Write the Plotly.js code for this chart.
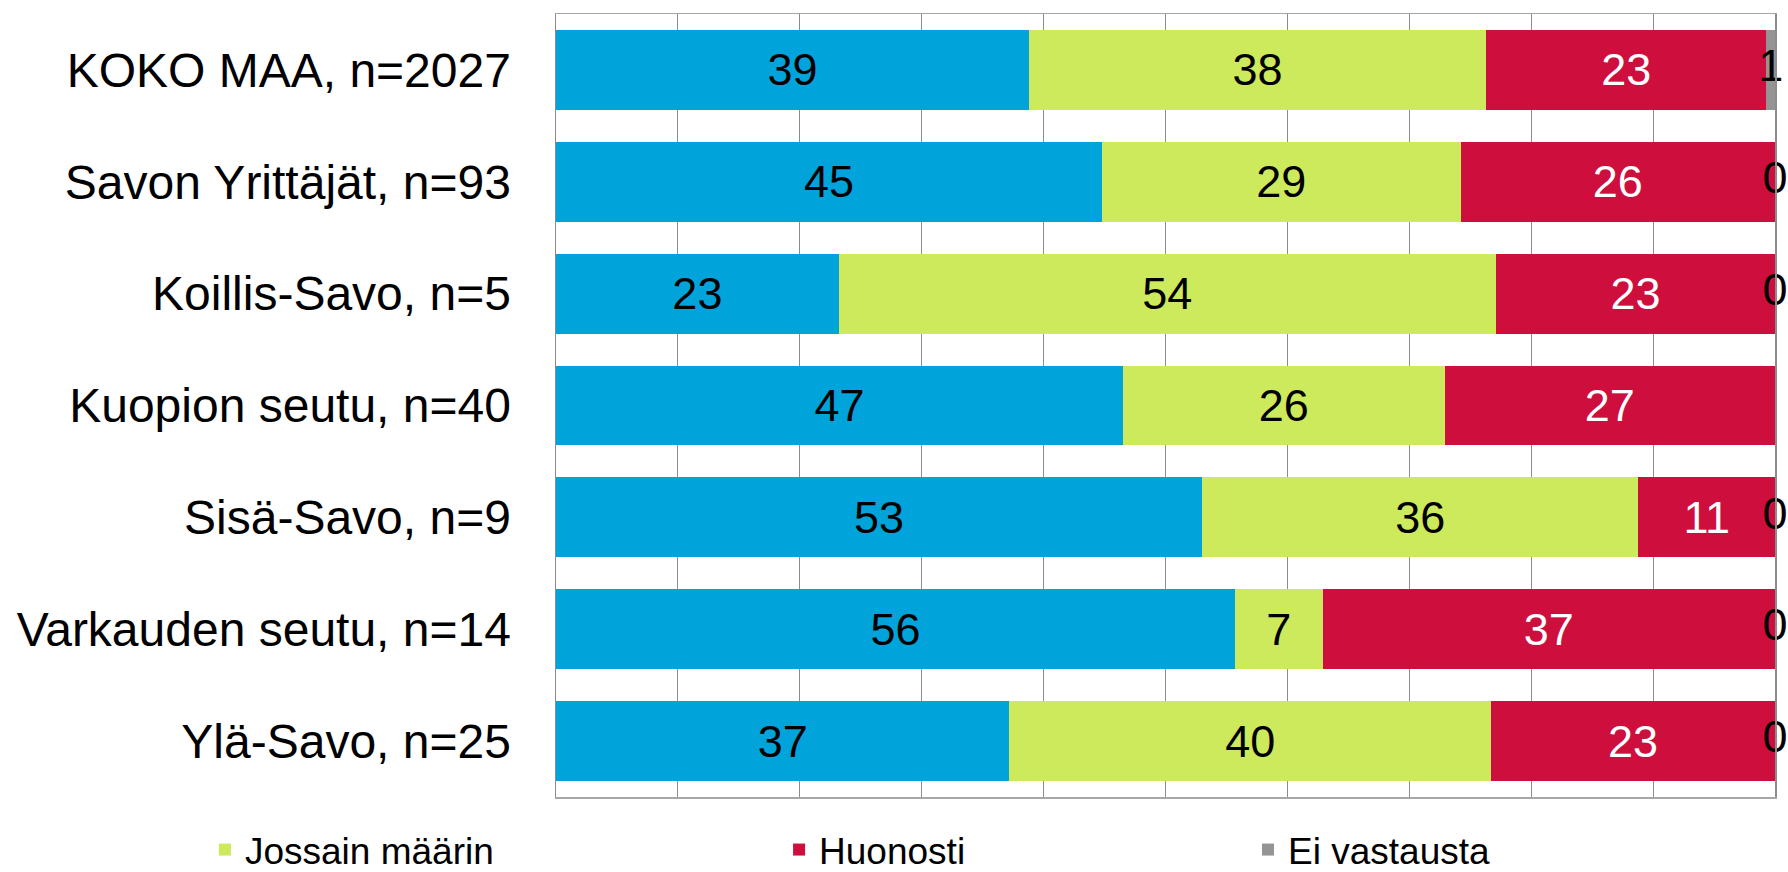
<!DOCTYPE html>
<html>
<head>
<meta charset="utf-8">
<script src="https://cdn.plot.ly/plotly-3.0.1.min.js"></script>
<style>
  html, body { margin: 0; padding: 0; background: #ffffff; }
  #chart { width: 1788px; height: 872px; }
</style>
</head>
<body>
<div id="chart"></div>
<script>
// Categories (top to bottom)
const categories = [
  'KOKO MAA, n=2027',
  'Savon Yrittäjät, n=93',
  'Koillis-Savo, n=5',
  'Kuopion seutu, n=40',
  'Sisä-Savo, n=9',
  'Varkauden seutu, n=14',
  'Ylä-Savo, n=25'
];

const seriesNames = ['Hyvin', 'Jossain määrin', 'Huonosti', 'Ei vastausta'];

// Series values (percent)
const hyvin     = [38.8, 44.8, 23.2, 46.5, 53.0, 55.7, 37.2];
const jossain   = [37.5, 29.4, 53.9, 26.4, 35.8, 7.2, 39.5];
const huonosti  = [23.0, 25.8, 22.9, 27.1, 11.2, 37.1, 23.3];
const eiVast    = [0.7, 0, 0, 0, 0, 0, 0];

// Data labels as printed on the chart
const hyvinLabels    = ['39', '45', '23', '47', '53', '56', '37'];
const jossainLabels  = ['38', '29', '54', '26', '36', '7', '40'];
const huonostiLabels = ['23', '26', '23', '27', '11', '37', '23'];
const eiVastLabels   = ['1', '0', '0', '', '0', '0', '0'];

const colors = ['#00a3da', '#cde95c', '#ce0e3d', '#949494'];
const FONT = 'Liberation Sans, Arial, sans-serif';
const labelSize = 45;

function barTrace(name, x, labels, color, textColor, showleg, legendId) {
  return {
    type: 'bar',
    orientation: 'h',
    name: name,
    y: categories,
    x: x,
    text: labels,
    textposition: 'inside',
    insidetextanchor: 'middle',
    constraintext: 'none',
    textangle: 0,
    textfont: { family: FONT, size: labelSize, color: textColor },
    marker: { color: color, line: { width: 0 } },
    showlegend: showleg,
    legend: legendId,
    hoverinfo: 'skip'
  };
}

const traces = [
  barTrace(seriesNames[0], hyvin, hyvinLabels, colors[0], '#000000', false, 'legend'),
  barTrace(seriesNames[1], jossain, jossainLabels, colors[1], '#000000', true, 'legend'),
  barTrace(seriesNames[2], huonosti, huonostiLabels, colors[2], '#ffffff', true, 'legend2'),
  barTrace(seriesNames[3], eiVast, eiVastLabels.map(() => ''), colors[3], '#000000', true, 'legend3')
];

// Labels of the "Ei vastausta" segments, placed at the centre of each segment
const eiVastCenters = categories.map((c, i) => hyvin[i] + jossain[i] + huonosti[i] + eiVast[i] / 2);
traces.push({
  type: 'scatter',
  mode: 'text',
  y: categories,
  x: eiVastCenters,
  text: eiVastLabels,
  textposition: 'middle center',
  textfont: { family: FONT, size: labelSize, color: '#000000' },
  cliponaxis: false,
  showlegend: false,
  hoverinfo: 'skip'
});

const legendCommon = {
  orientation: 'h',
  xanchor: 'left',
  yanchor: 'middle',
  y: -0.0677,
  font: { family: FONT, size: 37, color: '#000000' },
  bgcolor: 'rgba(0,0,0,0)',
  borderwidth: 0,
  traceorder: 'normal'
};

const layout = {
  width: 1788,
  height: 872,
  margin: { l: 556, r: 13, t: 14, b: 75, pad: 0, autoexpand: false },
  paper_bgcolor: '#ffffff',
  plot_bgcolor: '#ffffff',
  barmode: 'stack',
  bargap: 0.285,
  font: { family: FONT, color: '#000000' },
  xaxis: {
    range: [0, 100],
    dtick: 10,
    tick0: 0,
    showticklabels: false,
    ticks: '',
    showgrid: true,
    gridcolor: '#8c8c8c',
    gridwidth: 1,
    zeroline: false,
    showline: true,
    linecolor: '#a6a6a6',
    linewidth: 1.5,
    mirror: true,
    fixedrange: true
  },
  yaxis: {
    type: 'category',
    autorange: 'reversed',
    ticks: '',
    showgrid: false,
    zeroline: false,
    showline: true,
    linecolor: '#8c8c8c',
    linewidth: 1.5,
    mirror: true,
    ticklabelstandoff: 34,
    tickfont: { family: FONT, size: 48, color: '#000000' },
    fixedrange: true
  },
  legend: Object.assign({}, legendCommon, { x: -0.288 }),
  legend2: Object.assign({}, legendCommon, { x: 0.183 }),
  legend3: Object.assign({}, legendCommon, { x: 0.5677 }),
  showlegend: true
};

Plotly.newPlot('chart', traces, layout, { displayModeBar: false, staticPlot: true });
</script>
</body>
</html>
